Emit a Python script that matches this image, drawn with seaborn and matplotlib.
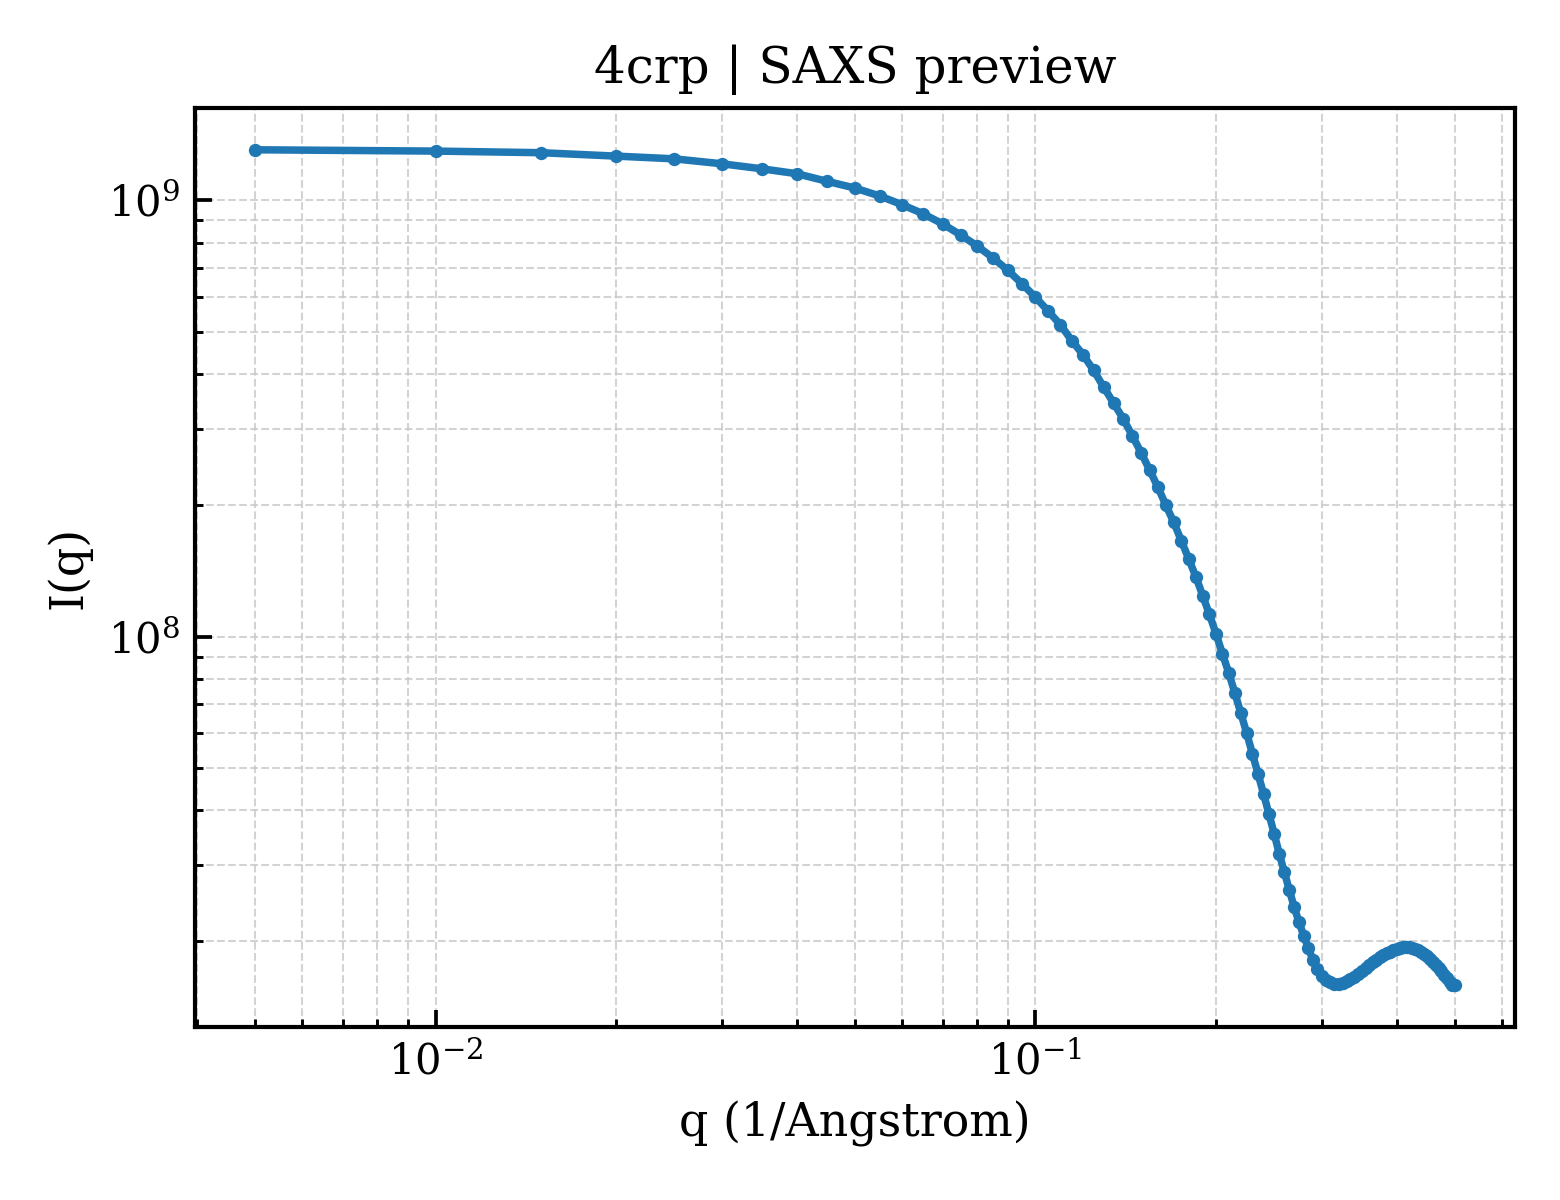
import matplotlib
matplotlib.use("Agg")
import matplotlib.pyplot as plt
import seaborn as sns
import numpy as np
import pandas as pd

q_values = [
    0.005, 0.010, 0.015, 0.020, 0.025, 0.030, 0.035, 0.040, 0.045, 0.050,
    0.055, 0.060, 0.065, 0.070, 0.075, 0.080, 0.085, 0.090, 0.095, 0.100,
    0.105, 0.110, 0.115, 0.120, 0.125, 0.130, 0.135, 0.140, 0.145, 0.150,
    0.155, 0.160, 0.165, 0.170, 0.175, 0.180, 0.185, 0.190, 0.195, 0.200,
    0.205, 0.210, 0.215, 0.220, 0.225, 0.230, 0.235, 0.240, 0.245, 0.250,
    0.255, 0.260, 0.265, 0.270, 0.275, 0.280, 0.285, 0.290, 0.295, 0.300,
    0.305, 0.310, 0.315, 0.320, 0.325, 0.330, 0.335, 0.340, 0.345, 0.350,
    0.355, 0.360, 0.365, 0.370, 0.375, 0.380, 0.385, 0.390, 0.395, 0.400,
    0.405, 0.410, 0.415, 0.420, 0.425, 0.430, 0.435, 0.440, 0.445, 0.450,
    0.455, 0.460, 0.465, 0.470, 0.475, 0.480, 0.485, 0.490, 0.495, 0.500,
]

intensity = [
    1.307e9, 1.298e9, 1.287e9, 1.264e9, 1.246e9, 1.214e9, 1.182e9, 1.152e9, 1.106e9, 1.068e9,
    1.024e9, 9.775e8, 9.32e8, 8.84e8, 8.34e8, 7.86e8, 7.38e8, 6.91e8, 6.44e8, 6.00e8,
    5.58e8, 5.19e8, 4.77e8, 4.43e8, 4.08e8, 3.73e8, 3.43e8, 3.16e8, 2.89e8, 2.64e8,
    2.41e8, 2.20e8, 2.00e8, 1.83e8, 1.66e8, 1.51e8, 1.373e8, 1.242e8, 1.124e8, 1.014e8,
    9.13e7, 8.25e7, 7.42e7, 6.67e7, 6.00e7, 5.38e7, 4.84e7, 4.36e7, 3.92e7, 3.53e7,
    3.17e7, 2.88e7, 2.62e7, 2.395e7, 2.213e7, 2.062e7, 1.929e7, 1.816e7, 1.725e7, 1.667e7,
    1.630e7, 1.610e7, 1.601e7, 1.600e7, 1.606e7, 1.619e7, 1.637e7, 1.658e7, 1.680e7, 1.707e7,
    1.734e7, 1.762e7, 1.790e7, 1.814e7, 1.838e7, 1.857e7, 1.877e7, 1.892e7, 1.907e7, 1.922e7,
    1.932e7, 1.937e7, 1.939e7, 1.937e7, 1.932e7, 1.922e7, 1.907e7, 1.892e7, 1.875e7, 1.847e7,
    1.823e7, 1.794e7, 1.766e7, 1.738e7, 1.707e7, 1.676e7, 1.645e7, 1.614e7, 1.590e7, 1.585e7,
]

title = "4crp | SAXS preview"
xlabel = "q (1/Angstrom)"
ylabel = "I(q)"

sns.set_style("white")
plt.rcParams["font.family"] = ["DejaVu Serif"]
plt.rcParams["mathtext.fontset"] = "dejavuserif"
plt.rcParams["text.color"] = "black"
plt.rcParams["axes.labelcolor"] = "black"
plt.rcParams["xtick.color"] = "black"
plt.rcParams["ytick.color"] = "black"

df = pd.DataFrame({"q": q_values, "I": intensity})

fig = plt.figure(figsize=(5.2, 4.0), dpi=300)
ax = fig.add_axes([0.125, 0.144, 0.846, 0.766])

sns.lineplot(
    data=df, x="q", y="I", ax=ax, color="#1f77b4",
    marker="o", markersize=3.2, linewidth=1.8,
    markeredgewidth=0, markeredgecolor="#1f77b4",
    estimator=None, sort=False,
)
ax.set_xscale("log")
ax.set_yscale("log")

ax.grid(True, which="both", linestyle="--", linewidth=0.5, color="#c8c8c8", alpha=0.8)
ax.set_axisbelow(True)

for s in ax.spines.values():
    s.set_linewidth(1.0)
    s.set_color("black")

ax.tick_params(which="major", direction="in", length=4, width=0.9, labelsize=10,
               bottom=True, left=True, top=False, right=False, colors="black")
ax.tick_params(which="minor", direction="in", length=2, width=0.7,
               bottom=True, left=True, top=False, right=False)

ax.set_title(title, fontsize=12)
ax.set_xlabel(xlabel, fontsize=11)
ax.set_ylabel(ylabel, fontsize=11)

fig.savefig("out.png", dpi=300)
